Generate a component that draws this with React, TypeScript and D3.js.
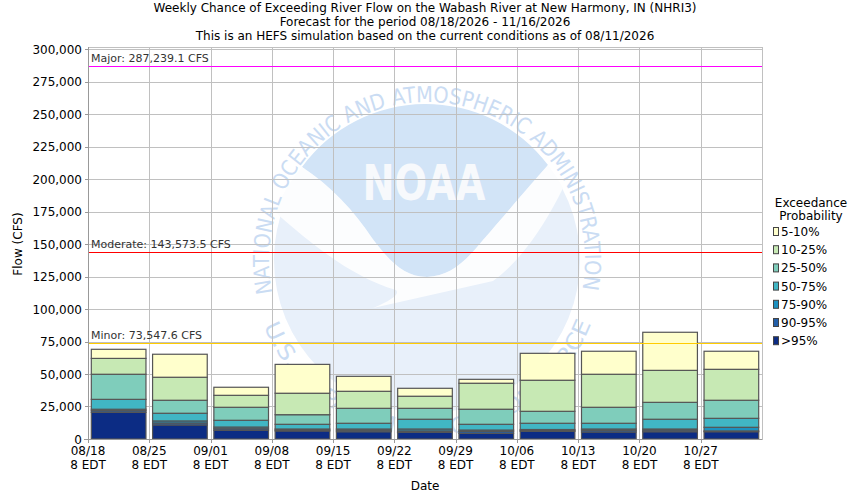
import React from "react";
import * as d3 from "d3";

const weeks = ["2026-08-18","2026-08-25","2026-09-01","2026-09-08","2026-09-15","2026-09-22","2026-09-29","2026-10-06","2026-10-13","2026-10-20","2026-10-27"];
// top flow of each exceedance band (CFS)
const band95 = [20500, 10800, 6700, 6200, 5600, 5200, 4400, 5900, 5400, 5600, 5600];
const band90 = [21800, 12300, 7900, 6900, 6700, 6200, 5900, 6500, 6700, 6900, 6200];
const band75 = [22900, 13900, 9200, 7700, 7700, 7700, 6900, 7300, 7700, 7700, 9000];
const band50 = [30500, 19800, 14400, 11300, 12100, 15200, 11300, 12100, 12100, 15200, 15900];
const band25 = [49800, 29800, 24400, 18700, 23600, 23600, 22900, 21300, 24400, 28200, 29800];
const band10 = [62000, 47500, 33600, 35200, 36700, 32900, 42900, 45200, 49800, 52800, 53600];
const band5 = [69000, 65200, 39800, 57400, 48200, 39000, 45900, 65900, 67500, 82100, 67500];

const bandLabels = [">95%", "90-95%", "75-90%", "50-75%", "25-50%", "10-25%", "5-10%"];
const bandColors = ["#0c2c84", "#225ea8", "#1d91c0", "#41b6c4", "#7fcdbb", "#c7e9b4", "#ffffcc"];
const bandSeries = [band95, band90, band75, band50, band25, band10, band5];

const thresholds = [
  { label: "Major: 287,239.1 CFS", value: 287239.1, color: "#ff00ff" },
  { label: "Moderate: 143,573.5 CFS", value: 143573.5, color: "#ff0000" },
  { label: "Minor: 73,547.6 CFS", value: 73547.6, color: "#ffcc00" },
];

const titleLines = [
  "Weekly Chance of Exceeding River Flow on the Wabash River at New Harmony, IN (NHRI3)",
  "Forecast for the period 08/18/2026 - 11/16/2026",
  "This is an HEFS simulation based on the current conditions as of 08/11/2026",
];

const yTicks = d3.range(0, 300001, 25000);

const FONT = "DejaVu Sans, sans-serif";

export default function App() {
  const W = 850, H = 500;
  const left = 88, right = 762, top = 47, bottom = 439;
  const parse = d3.timeParse("%Y-%m-%d");
  const dates = weeks.map((w) => parse(w) as Date);
  const endDate = d3.timeDay.offset(dates[dates.length - 1], 7);
  const x = d3.scaleTime().domain([dates[0], endDate]).range([left, right]);
  const xb = d3.scaleBand<string>().domain(weeks).range([left, right]).paddingInner(0.108).paddingOuter(0.054);
  const y = d3.scaleLinear().domain([0, 300000]).range([bottom, 49]);
  const fmt = d3.format(",");
  const dfmt = d3.timeFormat("%m/%d");
  const crisp = (v: number) => Math.round(v) + 0.5;

  const cx = 427, cy = 260, r = 153;
  const pt = (deg: number, rad: number) => [cx + rad * Math.cos((deg * Math.PI) / 180), cy + rad * Math.sin((deg * Math.PI) / 180)];
  const rt = 158;
  const [tsx, tsy] = pt(168, rt);
  const [tex, tey] = pt(12, rt);
  const topArc = `M${tsx},${tsy} A${rt},${rt} 0 1 1 ${tex},${tey}`;
  const topLen = (2 * Math.PI * rt * 204) / 360;
  const rb = 176;
  const [bsx, bsy] = pt(158, rb);
  const [bex, bey] = pt(20, rb);
  const botArc = `M${bsx},${bsy} A${rb},${rb} 0 0 0 ${bex},${bey}`;
  const botLen = (2 * Math.PI * rb * 138) / 360;

  const darkBlob = `M302,167 A${r},${r} 0 0 1 548,165 C530,185 505,215 483,240 C465,262 450,276 427,277 C405,277 390,262 372,238 C355,212 330,185 302,167 Z`;
  const whiteBand = `M275,212 A${r},${r} 0 0 1 302,167 C330,185 355,212 372,238 C390,262 405,277 427,277 C450,276 465,262 483,240 C505,215 530,185 548,165 A${r},${r} 0 0 1 563,188 C545,225 520,262 493,281 L373,308 C392,300 400,294 396,290 C355,278 318,250 275,212 Z`;

  return (
    <svg width={W} height={H} style={{ position: "absolute", left: 0, top: 0, background: "#fff" }} fontFamily={FONT}>
      <rect x={0} y={0} width={W} height={H} fill="#ffffff" />
      {/* title */}
      {titleLines.map((t, i) => (
        <text key={i} x={425} y={12 + i * 14} textAnchor="middle" fontSize={12} fill="#000">{t}</text>
      ))}
      {/* watermark */}
      <g>
        <circle cx={cx} cy={cy} r={r} fill="#e8f0fa" />
        <path d={darkBlob} fill="#d2e4f7" />
        <path d={whiteBand} fill="#fcfdfe" />
        <text x={424} y={200} textAnchor="middle" fontSize={50} fontWeight="bold" fill="#f7f9fc" textLength={123} lengthAdjust="spacingAndGlyphs">NOAA</text>
        <defs>
          <path id="topArc" d={topArc} />
          <path id="botArc" d={botArc} />
        </defs>
        <text fontSize={22} fill="#cadcf3">
          <textPath href="#topArc" textLength={topLen - 4} lengthAdjust="spacingAndGlyphs">NATIONAL OCEANIC AND ATMOSPHERIC ADMINISTRATION</textPath>
        </text>
        <text fontSize={22} fill="#cadcf3">
          <textPath href="#botArc" textLength={botLen - 4} lengthAdjust="spacingAndGlyphs">U.S. DEPARTMENT OF COMMERCE</textPath>
        </text>
      </g>
      {/* grid */}
      <g stroke="#c0c0c0" strokeWidth={1}>
        {yTicks.map((t) => (
          <line key={t} x1={left} x2={right} y1={crisp(y(t))} y2={crisp(y(t))} />
        ))}
        {dates.map((d, i) => (
          <line key={i} x1={crisp(x(d))} x2={crisp(x(d))} y1={top} y2={bottom} />
        ))}
        <rect x={left + 0.5} y={top + 0.5} width={right - left} height={bottom - top} fill="none" />
      </g>
      {/* bars */}
      {weeks.map((w, i) => (
        <g key={w}>
          {bandSeries.map((s, j) => {
            const lo = j === 0 ? 0 : bandSeries[j - 1][i];
            const hi = s[i];
            return (
              <rect key={j} x={xb(w)} width={xb.bandwidth()} y={y(hi)} height={y(lo) - y(hi)}
                fill={bandColors[j]} stroke="#555" strokeWidth={1.2} />
            );
          })}
        </g>
      ))}
      {/* thresholds */}
      {thresholds.map((t) => (
        <g key={t.label}>
          <line x1={left} x2={right} y1={crisp(y(t.value))} y2={crisp(y(t.value))} stroke={t.color} strokeWidth={1} />
          <text x={91} y={y(t.value) - 4} fontSize={11} fill="#333">{t.label}</text>
        </g>
      ))}
      {/* axes */}
      <line x1={left + 0.5} x2={left + 0.5} y1={top} y2={bottom + 4} stroke="#999" />
      <line x1={left - 4} x2={right} y1={bottom + 0.5} y2={bottom + 0.5} stroke="#999" />
      {yTicks.map((t) => (
        <g key={t}>
          <line x1={left - 3} x2={left} y1={crisp(y(t))} y2={crisp(y(t))} stroke="#999" />
          <text x={82} y={y(t) + 4.5} textAnchor="end" fontSize={12} fill="#000">{fmt(t)}</text>
        </g>
      ))}
      {dates.map((d, i) => (
        <g key={i}>
          <line x1={crisp(x(d))} x2={crisp(x(d))} y1={bottom} y2={bottom + 4} stroke="#999" />
          <text x={x(d)} y={455} textAnchor="middle" fontSize={12}>{dfmt(d)}</text>
          <text x={x(d)} y={469} textAnchor="middle" fontSize={12}>8 EDT</text>
        </g>
      ))}
      <text x={425} y={490} textAnchor="middle" fontSize={12}>Date</text>
      <text transform="translate(22,244) rotate(-90)" textAnchor="middle" fontSize={12}>Flow (CFS)</text>
      {/* legend */}
      <text x={811} y={207} textAnchor="middle" fontSize={12}>Exceedance</text>
      <text x={811} y={219.5} textAnchor="middle" fontSize={12}>Probability</text>
      {bandLabels.slice().reverse().map((lab, k) => {
        const j = bandLabels.length - 1 - k;
        const by = 236 + k * 18.2;
        return (
          <g key={lab}>
            <rect x={773.5} y={by - 8.5} width={5} height={8} fill={bandColors[j]} stroke="#444" strokeWidth={1} />
            <text x={781} y={by} fontSize={12}>{lab}</text>
          </g>
        );
      })}
    </svg>
  );
}
